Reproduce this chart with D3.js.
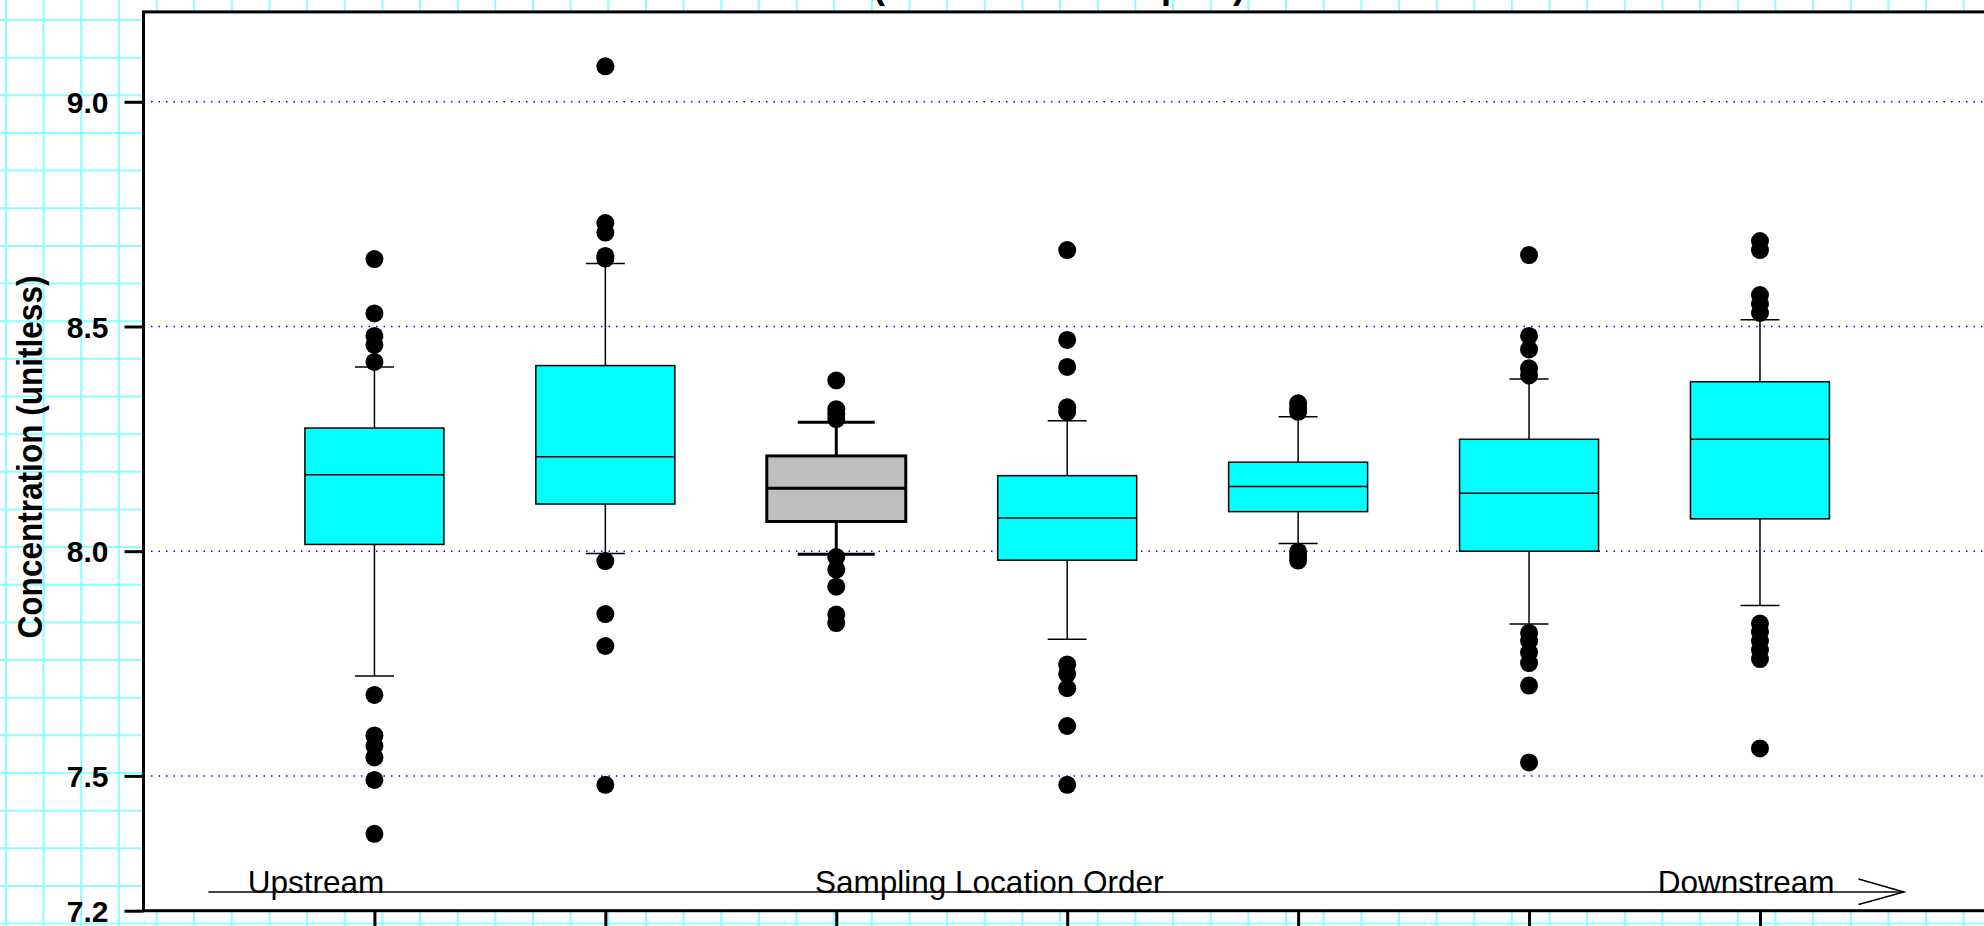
<!DOCTYPE html>
<html>
<head>
<meta charset="utf-8">
<script src="https://cdn.jsdelivr.net/npm/d3@7"></script>
<style>
  html, body { margin: 0; padding: 0; background: #ffffff; }
  svg { display: block; }
  text { font-family: "Liberation Sans", Arial, Helvetica, sans-serif; }
</style>
</head>
<body>
<svg id="chart" width="1984" height="926"></svg>
<script>
// ---------------- data ----------------
const sites = ["Site 1", "Site 2", "Site 3", "Site 4", "Site 5", "Site 6", "Site 7"];
const whiskerLow  = [7.722, 7.995, 7.993, 7.804, 8.017, 7.838, 7.879];
const q1          = [8.015, 8.105, 8.066, 7.980, 8.088, 8.000, 8.072];
const medians     = [8.170, 8.210, 8.140, 8.074, 8.144, 8.129, 8.249];
const q3          = [8.274, 8.413, 8.212, 8.168, 8.198, 8.249, 8.377];
const whiskerHigh = [8.410, 8.640, 8.287, 8.290, 8.299, 8.383, 8.515];
const outliers = [
  [8.650, 8.529, 8.479, 8.459, 8.421, 7.680, 7.590, 7.567, 7.541, 7.491, 7.371],
  [9.079, 8.730, 8.709, 8.657, 8.651, 7.978, 7.860, 7.789, 7.480],
  [8.380, 8.316, 8.305, 8.294, 7.987, 7.959, 7.921, 7.859, 7.840],
  [8.670, 8.470, 8.410, 8.320, 8.310, 7.748, 7.727, 7.695, 7.611, 7.480],
  [8.329, 8.318, 8.310, 7.999, 7.989, 7.979],
  [8.659, 8.479, 8.449, 8.407, 8.391, 7.818, 7.800, 7.775, 7.751, 7.701, 7.530],
  [8.690, 8.670, 8.570, 8.550, 8.530, 7.839, 7.820, 7.800, 7.780, 7.760, 7.561]
];
const highlightedSite = "Site 3";
const yTicks = [7.2, 7.5, 8.0, 8.5, 9.0];
const gridLines = [7.5, 8.0, 8.5, 9.0];
const titleText = "(All Routine Samples)";
const yLabel = "Concentration (unitless)";
const flowLabels = ["Upstream", "Sampling Location Order", "Downstream"];

// ---------------- layout ----------------
const W = 1984, H = 926;
const plot = { left: 143.5, top: 11.9, right: 1990.9, bottom: 910.7 };

const svg = d3.select("#chart");

// graph-paper background
const gridStep = 37.65;
const bg = svg.append("g").attr("stroke", "#8dffff").attr("stroke-width", 2);
bg.selectAll("line.v").data(d3.range(5.9, W + 1, gridStep)).join("line")
  .attr("x1", d => d).attr("x2", d => d).attr("y1", 0).attr("y2", H);
bg.selectAll("line.h").data(d3.range(20 - gridStep, H + 1, gridStep)).join("line")
  .attr("y1", d => d).attr("y2", d => d).attr("x1", 0).attr("x2", W);

// scales
const x = d3.scaleLinear().domain([0, sites.length + 1]).range([plot.left, plot.right]);
const y = d3.scaleLinear().domain([7.2, 9.2]).range([plot.bottom, plot.top]);

// plot area
svg.append("rect")
  .attr("x", plot.left).attr("y", plot.top)
  .attr("width", plot.right - plot.left).attr("height", plot.bottom - plot.top)
  .attr("fill", "#ffffff");

// dotted reference lines
svg.append("g").selectAll("line").data(gridLines).join("line")
  .attr("x1", plot.left).attr("x2", plot.right)
  .attr("y1", d => y(d)).attr("y2", d => y(d))
  .attr("stroke", "#0000ff").attr("stroke-width", 1.5)
  .attr("stroke-dasharray", "1.5 6");

// boxplots
const boxW = 139, capW = 39, capWHi = 77;
const g = svg.append("g");
sites.forEach((s, i) => {
  const cx = x(i + 1);
  const hi = s === highlightedSite;
  const sw = hi ? 3 : 1.5;
  const cw = hi ? capWHi : capW;
  const grp = g.append("g");
  grp.append("line").attr("x1", cx).attr("x2", cx)
    .attr("y1", y(q3[i])).attr("y2", y(whiskerHigh[i]))
    .attr("stroke", "#000").attr("stroke-width", sw);
  grp.append("line").attr("x1", cx).attr("x2", cx)
    .attr("y1", y(q1[i])).attr("y2", y(whiskerLow[i]))
    .attr("stroke", "#000").attr("stroke-width", sw);
  [whiskerHigh[i], whiskerLow[i]].forEach(v => {
    grp.append("line").attr("x1", cx - cw / 2).attr("x2", cx + cw / 2)
      .attr("y1", y(v)).attr("y2", y(v))
      .attr("stroke", "#000").attr("stroke-width", sw);
  });
  grp.append("rect")
    .attr("x", cx - boxW / 2).attr("width", boxW)
    .attr("y", y(q3[i])).attr("height", y(q1[i]) - y(q3[i]))
    .attr("fill", hi ? "#bebebe" : "#00ffff")
    .attr("stroke", "#000").attr("stroke-width", sw);
  grp.append("line").attr("x1", cx - boxW / 2).attr("x2", cx + boxW / 2)
    .attr("y1", y(medians[i])).attr("y2", y(medians[i]))
    .attr("stroke", "#000").attr("stroke-width", sw);
  grp.selectAll("circle").data(outliers[i]).join("circle")
    .attr("cx", cx).attr("cy", d => y(d)).attr("r", 9).attr("fill", "#000");
});

// frame
svg.append("rect")
  .attr("x", plot.left).attr("y", plot.top)
  .attr("width", plot.right - plot.left).attr("height", plot.bottom - plot.top)
  .attr("fill", "none").attr("stroke", "#000").attr("stroke-width", 3);

// y axis
const yAxis = d3.axisLeft(y).tickValues(yTicks).tickFormat(d3.format(".1f"))
  .tickSize(19).tickPadding(16);
const ya = svg.append("g").attr("transform", `translate(${plot.left},0)`).call(yAxis);
ya.select(".domain").remove();
ya.selectAll(".tick line").attr("stroke", "#000").attr("stroke-width", 3);
ya.selectAll(".tick text").attr("fill", "#000")
  .style("font-size", "30px").style("font-weight", "bold")
  .style("font-family", "'Liberation Sans', Arial, sans-serif")
  .attr("dy", "0.36em");

// x axis (tick marks only, labels fall below the picture)
const xAxis = d3.axisBottom(x).tickValues(d3.range(1, sites.length + 1)).tickSize(22).tickFormat("");
const xa = svg.append("g").attr("transform", `translate(0,${plot.bottom})`).call(xAxis);
xa.select(".domain").remove();
xa.selectAll(".tick line").attr("stroke", "#000").attr("stroke-width", 3);

// y label
svg.append("text")
  .attr("transform", `translate(41.5,457) rotate(-90) scale(0.877,1)`)
  .attr("text-anchor", "middle")
  .style("font-size", "36px").style("font-weight", "bold")
  .attr("fill", "#000")
  .text(yLabel);

// title (mostly above the picture)
svg.append("text")
  .attr("x", 873).attr("y", -2.5)
  .style("font-size", "36px").style("font-weight", "bold")
  .attr("fill", "#000")
  .text(titleText);

// flow direction arrow
const arrowY = 892;
svg.append("line").attr("x1", 208.5).attr("x2", 1904).attr("y1", arrowY).attr("y2", arrowY)
  .attr("stroke", "#444").attr("stroke-width", 2);
svg.append("path")
  .attr("d", `M1858.5,${arrowY - 13} L1904,${arrowY} L1858.5,${arrowY + 12.5}`)
  .attr("fill", "none").attr("stroke", "#000").attr("stroke-width", 1.5);
const labPos = [{ x: 247.8, a: "start" }, { x: 815, a: "start" }, { x: 1657.8, a: "start" }];
svg.append("g").selectAll("text").data(flowLabels).join("text")
  .attr("x", (d, i) => labPos[i].x).attr("y", arrowY + 0.7)
  .attr("text-anchor", (d, i) => labPos[i].a)
  .style("font-size", "31.5px").attr("fill", "#000")
  .text(d => d);
</script>
</body>
</html>
